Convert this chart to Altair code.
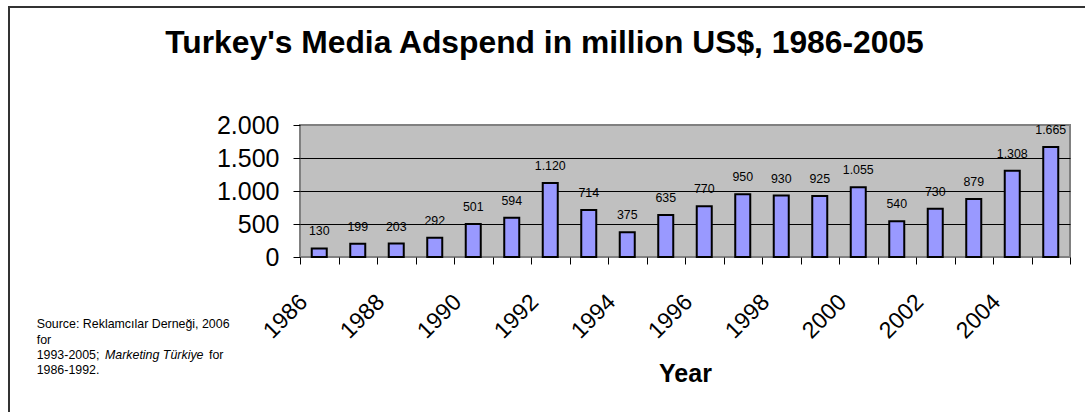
import altair as alt
import pandas as pd

# ---- data ----
years = [str(y) for y in range(1986, 2006)]
adspend = [130, 199, 203, 292, 501, 594, 1120, 714, 375, 635,
           770, 950, 930, 925, 1055, 540, 730, 879, 1308, 1665]
value_labels = [f"{v:,}".replace(",", ".") for v in adspend]
y_ticks = [0, 500, 1000, 1500, 2000]
title_text = ["Turkey's Media Adspend in million US$, 1986-2005"]
source_line1 = ["Source: Reklamcılar Derneği, 2006"]
source_line2 = ["for"]
source_line3a = ["1993-2005;"]
source_line3b = ["Marketing Türkiye"]
source_line3c = ["for"]
source_line4 = ["1986-1992."]

FONT = "Liberation Sans"

df = pd.DataFrame({"year": years, "value": adspend, "label": value_labels})

xenc = alt.X(
    "year:O",
    scale=alt.Scale(paddingInner=0, paddingOuter=0),
    axis=alt.Axis(
        title="Year",
        labelAngle=-45,
        labelAlign="right",
        labelBaseline="middle",
        labelFontSize=23,
        labelFont=FONT,
        labelColor="black",
        labelPadding=34,
        labelOffset=-16,
        labelOverlap=False,
        labelExpr="toNumber(datum.value) % 2 == 0 ? datum.label : ''",
        ticks=True,
        tickSize=7,
        tickWidth=1,
        tickColor="black",
        tickBand="extent",
        domain=False,
        grid=False,
        titleFont=FONT,
        titleFontSize=25,
        titleFontWeight="bold",
        titleColor="black",
        titleX=385,
        titleY=124,
        titleAlign="center",
        titleBaseline="alphabetic",
    ),
)
yenc = alt.Y(
    "value:Q",
    scale=alt.Scale(domain=[0, 2000], nice=False),
    axis=alt.Axis(
        title=None,
        values=y_ticks,
        labelExpr="replace(format(datum.value, ','), ',', '.')",
        labelFont=FONT,
        labelFontSize=25,
        labelColor="black",
        labelPadding=14,
        labelOverlap=False,
        labelBound=False,
        ticks=True,
        tickSize=7,
        tickWidth=1,
        tickColor="black",
        domain=False,
        grid=True,
        gridColor=alt.condition(
            "datum.value == 0 || datum.value == 2000",
            alt.value("#808080"),
            alt.value("black"),
        ),
        gridWidth=1,
    ),
)

base = alt.Chart(df)

bars = base.mark_bar(
    fill="#9999FF", stroke="black", strokeWidth=2,
    width=alt.RelativeBandSize(0.39),
).encode(x=xenc, y=yenc)

bar_text = base.mark_text(
    dy=-17, fontSize=12.4, font=FONT, baseline="middle", align="center", color="black"
).encode(x=xenc, y=yenc, text="label:N")


def note(txt, x, y, size=12.4, style="normal", weight="normal", align="left"):
    return alt.Chart(pd.DataFrame({"t": txt})).mark_text(
        font=FONT, fontSize=size, fontStyle=style, fontWeight=weight,
        align=align, baseline="alphabetic", color="black"
    ).encode(x=alt.value(x), y=alt.value(y), text="t:N")


title = note(title_text, 244.5, -71.7, size=31.8, weight="bold", align="center")
n1 = note(source_line1, -263.3, 203.3)
n2 = note(source_line2, -263.3, 218.5)
n3a = note(source_line3a, -263.3, 234)
n3b = note(source_line3b, -195, 234, style="italic")
n3c = note(source_line3c, -91, 234)
n4 = note(source_line4, -263.3, 249.3)

one = pd.DataFrame({"k": [0]})
left_border = alt.Chart(one).mark_rule(color="#333333", strokeWidth=2).encode(
    x=alt.value(-291), y=alt.value(-118), y2=alt.value(300)
)
top_border = alt.Chart(one).mark_rule(color="#333333", strokeWidth=2).encode(
    x=alt.value(-292), x2=alt.value(800), y=alt.value(-118)
)

chart = alt.layer(
    bars, bar_text, title, n1, n2, n3a, n3b, n3c, n4, left_border, top_border
).properties(
    width=770,
    height=132,
    autosize=alt.AutoSizeParams(type="none"),
    padding={"left": 300, "top": 125, "right": 15, "bottom": 155},
    background="white",
).configure_view(
    fill="#C0C0C0", stroke="#808080", strokeWidth=2
)

chart.save("out.html", embed_options={"renderer": "svg", "actions": False})
